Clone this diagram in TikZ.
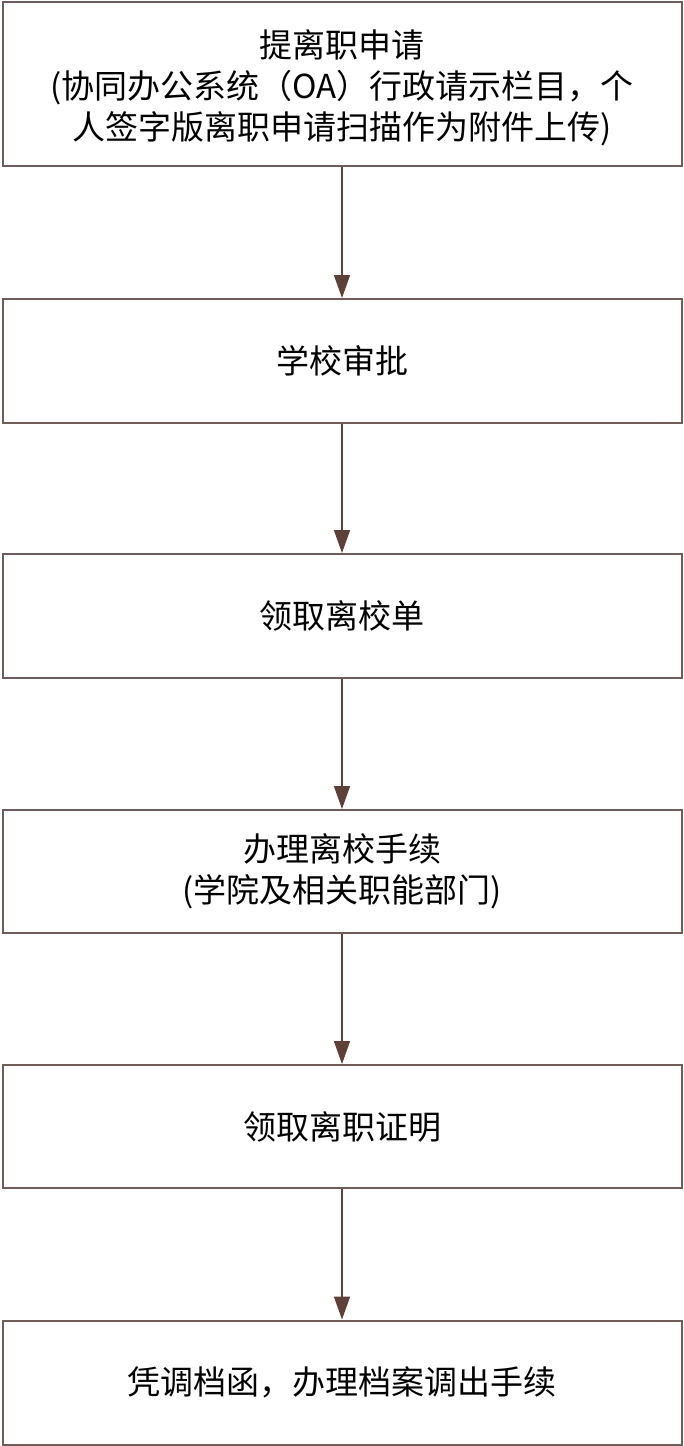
\documentclass[tikz,border=0pt]{standalone}
\usepackage{fontspec}
\setmainfont{Noto Sans CJK SC}
\usetikzlibrary{arrows.meta}
\definecolor{boxc}{HTML}{705C58}
\definecolor{arrc}{HTML}{5D4037}
\tikzset{
  stepbox/.style={draw=boxc, line width=2pt, fill=white, minimum width=679pt, inner sep=0pt, align=center, font=\fontsize{33}{41}\selectfont, text=black},
  link/.style={draw=arrc, line width=1.6pt, -{Triangle[length=23pt,width=16pt]}}
}
\begin{document}
\begin{tikzpicture}[x=1pt,y=-1pt]
\useasboundingbox (0,0) rectangle (684,1446);
\node[stepbox, minimum height=164pt] (b1) at (342,84) {\begin{tabular}{@{}c@{}}\rule{0pt}{41pt}提离职申请\\(协同办公系统（OA）行政请示栏目，个\\人签字版离职申请扫描作为附件上传)\end{tabular}};
\node[stepbox, minimum height=124pt] (b2) at (342,361) {学校审批};
\node[stepbox, minimum height=124pt] (b3) at (342,616) {领取离校单};
\node[stepbox, minimum height=123pt] (b4) at (342,871.5) {办理离校手续\\(学院及相关职能部门)};
\node[stepbox, minimum height=123pt] (b5) at (342,1126.5) {领取离职证明};
\node[stepbox, minimum height=124pt] (b6) at (342,1382.5) {凭调档函，办理档案调出手续};
\draw[link] (b1) -- (b2);
\draw[link] (b2) -- (b3);
\draw[link] (b3) -- (b4);
\draw[link] (b4) -- (b5);
\draw[link] (b5) -- (b6);
\end{tikzpicture}
\end{document}
